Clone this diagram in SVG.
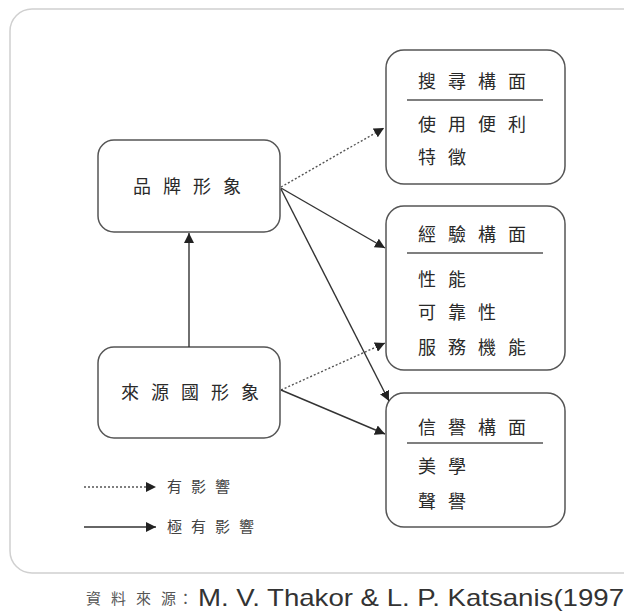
<svg xmlns="http://www.w3.org/2000/svg" width="624" height="615" viewBox="0 0 624 615">
<style>
  .frame{fill:#fff;stroke:#d0d0d0;stroke-width:1.5}
  .box{fill:#fff;stroke:#555;stroke-width:1.5}
  .sep{stroke:#555;stroke-width:1.5}
  .t{font-family:"Noto Sans CJK TC","Noto Sans CJK SC",sans-serif;font-size:18px;fill:#2a2a2a;letter-spacing:12px}
  .lg{font-family:"Noto Sans CJK TC","Noto Sans CJK SC",sans-serif;font-size:15px;fill:#444;letter-spacing:9px}
  .src{font-family:"Noto Sans CJK TC","Noto Sans CJK SC",sans-serif;font-size:15px;fill:#555}
  .solid{stroke:#333;stroke-width:1.4;fill:none;marker-end:url(#ah)}
  .dot{stroke:#555;stroke-width:1.4;fill:none;stroke-dasharray:2 2;marker-end:url(#ah)}
</style>
<defs>
  <marker id="ah" markerUnits="userSpaceOnUse" markerWidth="12" markerHeight="10" refX="10" refY="5" orient="auto">
    <path d="M0,0 L10,5 L0,10 Z" fill="#222"/>
  </marker>
</defs>
<rect width="624" height="615" fill="#fff"/>
<rect class="frame" x="10" y="9" width="640" height="564" rx="22"/>

<g id="brand">
  <rect class="box" x="98" y="140" width="182" height="92" rx="16"/>
  <text class="t" x="133" y="193">品牌形象</text>
</g>
<g id="origin">
  <rect class="box" x="98" y="347" width="182" height="91" rx="16"/>
  <text class="t" x="121" y="399">來源國形象</text>
</g>
<g id="search">
  <rect class="box" x="386" y="50" width="179" height="134" rx="18"/>
  <text class="t" x="418" y="88">搜尋構面</text>
  <line class="sep" x1="407" y1="100" x2="543" y2="100"/>
  <text class="t" x="418" y="131">使用便利</text>
  <text class="t" x="418" y="164">特徵</text>
</g>
<g id="experience">
  <rect class="box" x="386" y="206" width="179" height="164" rx="18"/>
  <text class="t" x="418" y="241">經驗構面</text>
  <line class="sep" x1="407" y1="253" x2="543" y2="253"/>
  <text class="t" x="418" y="286">性能</text>
  <text class="t" x="418" y="319">可靠性</text>
  <text class="t" x="418" y="354">服務機能</text>
</g>
<g id="credence">
  <rect class="box" x="386" y="393" width="179" height="134" rx="18"/>
  <text class="t" x="418" y="434">信譽構面</text>
  <line class="sep" x1="407" y1="443" x2="543" y2="443"/>
  <text class="t" x="418" y="473">美學</text>
  <text class="t" x="418" y="508">聲譽</text>
</g>

<g id="connectors">
  <line class="solid" x1="189" y1="347" x2="189" y2="233"/>
  <line class="dot" x1="281" y1="187" x2="384" y2="128"/>
  <line class="solid" x1="281" y1="188" x2="385" y2="248"/>
  <line class="solid" x1="281" y1="189" x2="389" y2="401"/>
  <line class="dot" x1="281" y1="390" x2="385" y2="343"/>
  <line class="solid" x1="281" y1="390" x2="385" y2="434"/>
</g>

<g id="legend">
  <line class="dot" x1="84" y1="487" x2="156" y2="487"/>
  <text class="lg" x="167" y="492">有影響</text>
  <line class="solid" x1="84" y1="527" x2="156" y2="527"/>
  <text class="lg" x="167" y="532">極有影響</text>
</g>

<g id="source">
  <text class="src" x="86" y="604" textLength="90" lengthAdjust="spacing">資料來源</text>
  <text class="src" x="178" y="604">：</text>
  <text x="198" y="606" font-family="Liberation Sans, Arial, sans-serif" font-size="24" fill="#333" textLength="426" lengthAdjust="spacingAndGlyphs">M. V. Thakor &amp; L. P. Katsanis(1997</text>
</g>
</svg>
